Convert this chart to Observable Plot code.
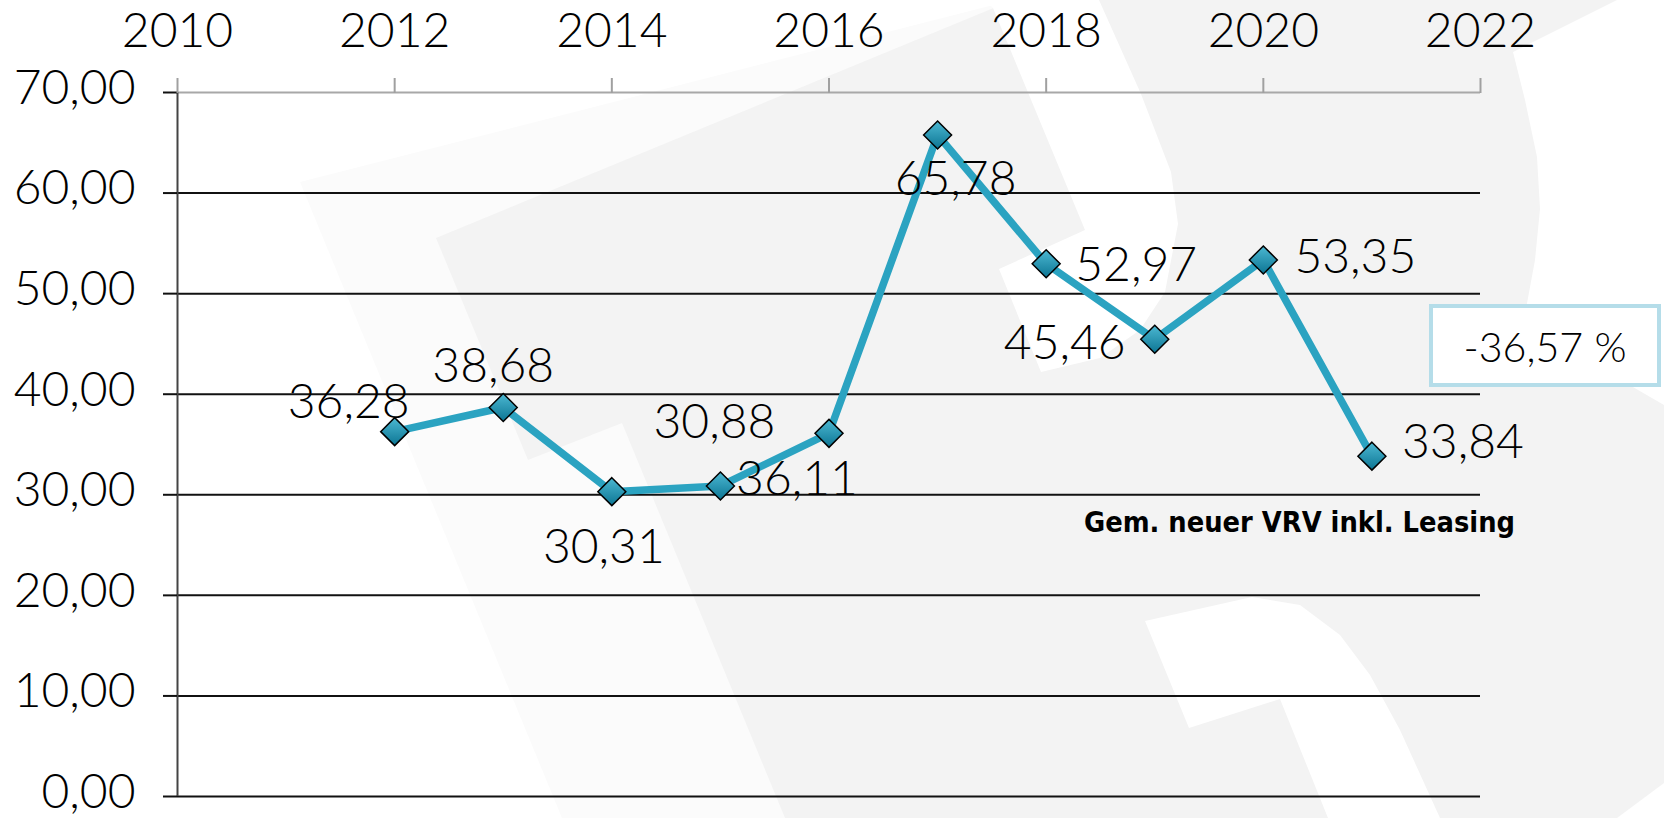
<!DOCTYPE html>
<html>
<head>
<meta charset="utf-8">
<script src="https://cdn.jsdelivr.net/npm/d3@7"></script>
<script src="https://cdn.jsdelivr.net/npm/@observablehq/plot@0.6"></script>
<style>
  html, body { margin: 0; padding: 0; background: #fff; }
  #chart { position: relative; width: 1664px; height: 818px; overflow: hidden; }
</style>
</head>
<body>
<div id="chart"></div>
<script>
// ---------- data ----------
const years  = [2012, 2013, 2014, 2015, 2016, 2017, 2018, 2019, 2020, 2021];
const values = [36.28, 38.68, 30.31, 30.88, 36.11, 65.78, 52.97, 45.46, 53.35, 33.84];
const xTicks = [2010, 2012, 2014, 2016, 2018, 2020, 2022];
const yTicks = [0, 10, 20, 30, 40, 50, 60, 70];
const seriesName  = "Gem. neuer VRV inkl. Leasing";
const changeLabel = "-36,57 %";

// ---------- layout (label offsets in px, as placed in the original) ----------
const labelOffsets = [[-46,-29],[-10,-41],[-8,56],[-6,-63],[-32,46],[18,45],[90,2],[-90,4],[92,-2],[91,-14]];

const fmt = v => v.toFixed(2).replace(".", ",");
const data = years.map((year, i) => ({year, value: values[i]}));

const W = 1664, H = 818;
const font = "Lato, 'Open Sans', sans-serif";
const weight = 300;

const labelMarks = data.map((d, i) => Plot.text([d], {
  x: "year", y: "value", text: d => fmt(d.value),
  dx: labelOffsets[i][0], dy: labelOffsets[i][1],
  fontSize: 48, fontWeight: weight, fill: "#000", lineAnchor: "middle", textAnchor: "middle"
}));

const chart = Plot.plot({
  width: W, height: H,
  marginLeft: 177, marginRight: 184, marginTop: 92, marginBottom: 22,
  style: {fontFamily: font, background: "transparent", overflow: "visible"},
  x: {domain: [2010, 2022], type: "linear"},
  y: {domain: [0, 70]},
  marks: [
    Plot.ruleY(yTicks.filter(v => v < 70), {stroke: "#111", strokeWidth: 2}),
    Plot.ruleY([70], {stroke: "#a8a8a8", strokeWidth: 2}),
    Plot.ruleX([2010], {stroke: "#444", strokeWidth: 2}),
    // y ticks (marks only)
    Plot.axisY({ticks: yTicks, tickSize: 14, tickFormat: () => "", stroke: "#111", strokeWidth: 2, label: null}),
    // y tick labels
    Plot.axisY({ticks: yTicks, tickSize: 0, tickPadding: 42, tickFormat: fmt, dy: -4,
      fontSize: 48, fontWeight: weight, fill: "#000", label: null}),
    Plot.axisX({anchor: "top", ticks: xTicks, tickSize: 15, tickPadding: 31, tickFormat: d => String(d),
      fontSize: 48, fontWeight: weight, stroke: "#a0a0a0", strokeWidth: 2, fill: "#000", label: null}),
    Plot.line(data, {x: "year", y: "value", stroke: "#2ba3c1", strokeWidth: 7.5, strokeLinejoin: "miter"}),
    Plot.dot(data, {x: "year", y: "value", symbol: "diamond2", r: 12.6, fill: "#1a8fb0", stroke: "#000", strokeWidth: 1.5}),
    ...labelMarks
  ]
});

document.getElementById("chart").appendChild(chart);

const svg = d3.select(chart);
// defs: gradient for markers
const defs = svg.insert("defs", ":first-child");
const grad = defs.append("linearGradient").attr("id", "dg").attr("x1", 0).attr("y1", 0).attr("x2", 0).attr("y2", 1);
grad.append("stop").attr("offset", "0%").attr("stop-color", "#4cb8d2");
grad.append("stop").attr("offset", "100%").attr("stop-color", "#0c7593");
svg.selectAll("g[aria-label='dot'] path").attr("fill", "url(#dg)");

// background watermark (decorative)
const bg = svg.insert("g", "defs + *").attr("aria-label", "background");
const shapes = [
  {fill: "#fbfbfb", pts: [[300,182],[1013,0],[1664,0],[1664,818],[562,818]]},
  {fill: "#f3f3f3", pts: [[436,238],[1013,0],[1664,0],[1664,818],[785,818],[622,423],[528,460]]},
  {fill: "#ffffff", pts: [[985,0],[1099,0],[1141,94],[1171,172],[1178,224],[1165,292],[1140,330],[1100,358],[1041,372],[999,269],[1085,230],[993,8]]},
  {fill: "#ffffff", pts: [[1617,0],[1664,0],[1664,405],[1600,368],[1523,325],[1535,260],[1540,209],[1537,157],[1525,100],[1513,52]]},
  {fill: "#ffffff", pts: [[1145,621],[1252,597],[1300,605],[1340,635],[1370,675],[1400,730],[1440,818],[1328,818],[1280,699],[1189,728]]},
  {fill: "#ffffff", pts: [[1664,783],[1664,818],[1617,818]]}
];
shapes.forEach(s => bg.append("polygon").attr("points", s.pts.map(p => p.join(",")).join(" ")).attr("fill", s.fill));

// series name
svg.append("text").text(seriesName)
  .attr("x", 1515).attr("y", 532).attr("text-anchor", "end")
  .attr("font-family", "'DejaVu Sans', sans-serif").attr("font-weight", "bold").attr("font-size", 28)
  .attr("textLength", 431).attr("lengthAdjust", "spacingAndGlyphs").attr("fill", "#000");

// change box
svg.append("rect").attr("x", 1431).attr("y", 306).attr("width", 228).attr("height", 79)
  .attr("fill", "#fff").attr("stroke", "#b5dde9").attr("stroke-width", 4);
svg.append("text").text(changeLabel)
  .attr("x", 1545).attr("y", 362).attr("text-anchor", "middle")
  .attr("font-family", font).attr("font-weight", weight).attr("font-size", 41)
  .attr("textLength", 163).attr("lengthAdjust", "spacingAndGlyphs").attr("fill", "#000");
</script>
</body>
</html>
